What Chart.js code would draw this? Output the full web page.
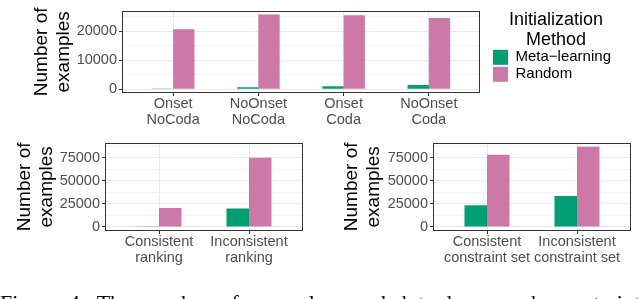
<!DOCTYPE html>
<html>
<head>
<meta charset="utf-8">
<script src="https://cdn.jsdelivr.net/npm/chart.js@4.4.0/dist/chart.umd.min.js"></script>
<style>
  html, body { margin: 0; padding: 0; background: #fff; width: 640px; height: 299px; overflow: hidden; }
  canvas { position: absolute; }
  #caption {
    position: absolute; left: 0; top: 292px; width: 640px;
    font: 22px/1 "Liberation Serif", serif; color: #000;
    white-space: nowrap; text-align: justify; text-align-last: justify;
  }
</style>
</head>
<body>
<canvas id="topChart" width="640" height="130" style="left:0;top:0"></canvas>
<canvas id="rankChart" width="320" height="167" style="left:0;top:132px"></canvas>
<canvas id="setChart" width="320" height="167" style="left:320px;top:132px"></canvas>
<div id="caption">Figure 4: The number of examples needed to learn each constraint</div>
<script>
// syllable structure panel
const topCategories = [['Onset', 'NoCoda'], ['NoOnset', 'NoCoda'], ['Onset', 'Coda'], ['NoOnset', 'Coda']];
const topMeta = [300, 700, 1000, 1450];
const topRandom = [20700, 25800, 25500, 24600];
const topTicks = [0, 10000, 20000];

// ranking panel
const rankCategories = [['Consistent', 'ranking'], ['Inconsistent', 'ranking']];
const rankMeta = [800, 20100];
const rankRandom = [20700, 75000];

// constraint set panel
const setCategories = [['Consistent', 'constraint set'], ['Inconsistent', 'constraint set']];
const setMeta = [23500, 33600];
const setRandom = [78500, 87100];
const bottomTicks = [0, 25000, 50000, 75000];

const seriesNames = ['Meta\u2212learning', 'Random'];
const seriesColors = ['#009E73', '#CC79A7'];

Chart.defaults.font.family = '"Liberation Sans", Arial, sans-serif';

// ggplot-style panel border
const panelBorder = {
  id: 'panelBorder',
  afterDatasetsDraw(chart) {
    const { ctx, chartArea: a } = chart;
    ctx.save();
    ctx.strokeStyle = '#333333';
    ctx.lineWidth = 1;
    ctx.strokeRect(Math.round(a.left) + 0.5, Math.round(a.top) + 0.5,
      Math.round(a.right - a.left) - 1, Math.round(a.bottom - a.top) - 1);
    ctx.restore();
  }
};

// leave a little white space between panel and legend
const LEGEND_GAP = 11;
const legendGap = {
  id: 'legendGap',
  afterLayout(chart) {
    if (chart.legend && chart.options.plugins.legend.display) {
      chart.legend.left += LEGEND_GAP;
      chart.legend.right += LEGEND_GAP;
    }
  }
};

function buildChart(id, categories, meta, random, majorTicks, yLimit, lay) {
  const step = majorTicks[1] - majorTicks[0];
  const pad = yLimit * 0.05;
  const allTicks = [];
  for (let v = majorTicks[0]; v <= yLimit + pad; v += step / 2) allTicks.push(v);
  const isMajor = v => majorTicks.includes(v);

  return new Chart(document.getElementById(id), {
    type: 'bar',
    data: {
      datasets: [
        { label: seriesNames[0], data: meta.map((v, i) => ({ x: i + 1, y: v })),
          backgroundColor: seriesColors[0], borderWidth: 0, categoryPercentage: 0.5, barPercentage: 1 },
        { label: seriesNames[1], data: random.map((v, i) => ({ x: i + 1, y: v })),
          backgroundColor: seriesColors[1], borderWidth: 0, categoryPercentage: 0.5, barPercentage: 1 }
      ]
    },
    options: {
      responsive: false,
      animation: false,
      devicePixelRatio: 1,
      layout: { padding: lay.padding },
      plugins: {
        legend: lay.legend || { display: false },
        tooltip: { enabled: false }
      },
      scales: {
        x: {
          type: 'linear',
          min: 0.4,
          max: categories.length + 0.6,
          offset: false,
          afterBuildTicks: s => { s.ticks = categories.map((c, i) => ({ value: i + 1 })); },
          afterFit: s => { s.height = lay.xHeight; },
          grid: { offset: false, color: '#E8E8E8', tickColor: '#333333', tickLength: 3 },
          border: { display: false },
          ticks: {
            color: '#4D4D4D', font: { size: 14.5, lineHeight: 1.1 }, padding: 0,
            maxRotation: 0, minRotation: 0, autoSkip: false,
            callback: v => categories[v - 1]
          }
        },
        y: {
          min: -pad,
          max: yLimit + pad,
          afterBuildTicks: s => { s.ticks = allTicks.map(v => ({ value: v })); },
          afterFit: s => { s.width = lay.yWidth; },
          grid: {
            color: c => isMajor(c.tick.value) ? '#E8E8E8' : '#F3F3F3',
            tickColor: c => isMajor(c.tick.value) ? '#333333' : 'rgba(0,0,0,0)',
            tickLength: 3
          },
          border: { display: false },
          ticks: {
            color: '#4D4D4D', font: { size: 14.5 }, padding: 2, autoSkip: false,
            callback: v => isMajor(v) ? String(v) : ''
          },
          title: {
            display: true, text: ['Number of', 'examples'], color: '#000',
            font: { size: 19, lineHeight: 1.15 }, padding: { top: lay.titlePad, bottom: 0 }
          }
        }
      }
    },
    plugins: [panelBorder, legendGap]
  });
}

const topChart = buildChart('topChart', topCategories, topMeta, topRandom, topTicks,
  Math.max(...topMeta, ...topRandom), {
    padding: { top: 1, right: 28, bottom: 0, left: 0 },
    xHeight: 37, yWidth: 122, titlePad: 31,
    legend: {
      display: true, position: 'right', align: 'start',
      title: {
        display: true, text: ['Initialization', 'Method'], color: '#000',
        font: { size: 18, lineHeight: 1.1 }, padding: { top: 10, bottom: 17 }
      },
      labels: { color: '#000', font: { size: 15 }, boxWidth: 15, boxHeight: 15, padding: 2 }
    }
  });
// make the top panel end at x = 480 whatever the legend's measured width is
topChart.options.layout.padding.right = 640 - 480 - topChart.legend.width;
topChart.update();

const bottomLimit = Math.max(...rankMeta, ...rankRandom, ...setMeta, ...setRandom);

buildChart('rankChart', rankCategories, rankMeta, rankRandom, bottomTicks, bottomLimit, {
  padding: { top: 6, right: 17, bottom: 0, left: 0 },
  xHeight: 68, yWidth: 105, titlePad: 14
});

buildChart('setChart', setCategories, setMeta, setRandom, bottomTicks, bottomLimit, {
  padding: { top: 6, right: 9, bottom: 0, left: 0 },
  xHeight: 68, yWidth: 113, titlePad: 21
});
</script>
</body>
</html>
